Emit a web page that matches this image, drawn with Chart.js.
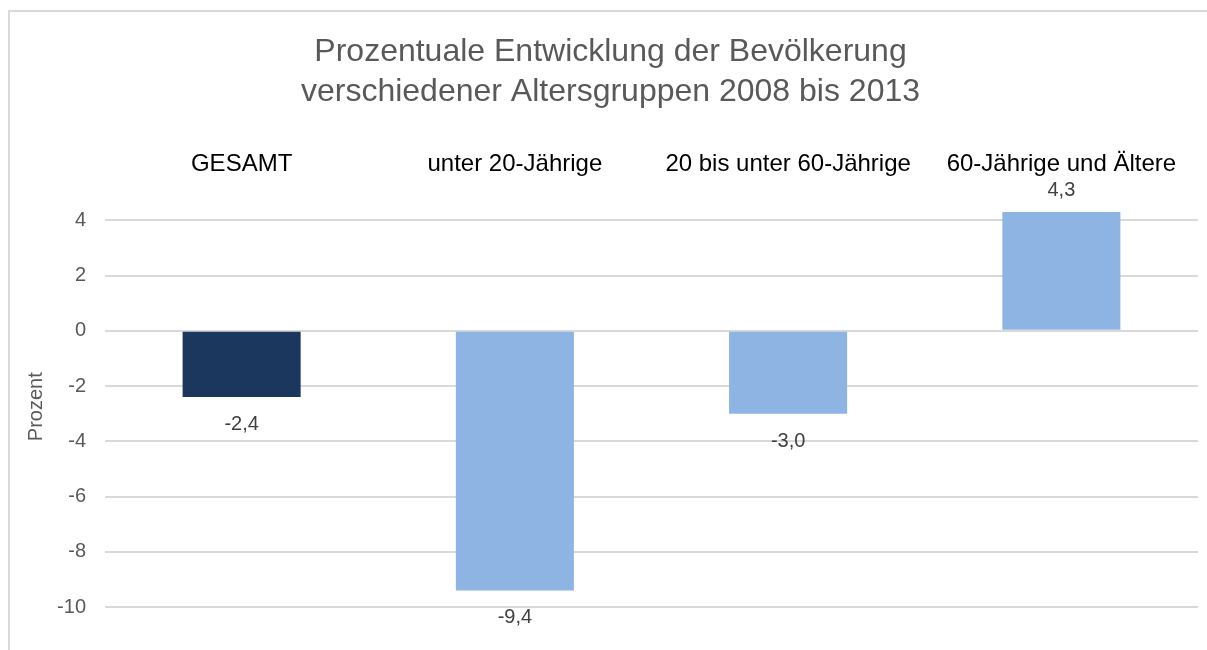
<!DOCTYPE html>
<html>
<head>
<meta charset="utf-8">
<script src="https://cdn.jsdelivr.net/npm/chart.js@4/dist/chart.umd.min.js"></script>
<style>
  body { margin: 0; background: #fff; overflow: hidden; }
  .frame { position: absolute; left: 8px; top: 10px; width: 1300px; height: 700px; border: 2px solid #d9d9d9; }
  .graph { position: absolute; left: 0; top: 0; width: 1207px; height: 650px; }
</style>
</head>
<body>
<div class="frame"></div>
<div class="graph"><canvas id="chart"></canvas></div>
<script>
const categories = ['GESAMT', 'unter 20-Jährige', '20 bis unter 60-Jährige', '60-Jährige und Ältere'];
const values = [-2.4, -9.4, -3.0, 4.3];
const yTicks = [4, 2, 0, -2, -4, -6, -8, -10];

const FONT = "'Liberation Sans', Arial, sans-serif";
const totalColor = '#1b375e';
const groupColor = '#8eb4e3';

// draws the value labels at the bar ends (outside end, comma decimals)
const valueLabels = {
    id: 'valueLabels',
    afterDatasetsDraw(chart) {
        const ctx = chart.ctx;
        const meta = chart.getDatasetMeta(0);
        ctx.save();
        ctx.font = '20px ' + FONT;
        ctx.fillStyle = '#404040';
        ctx.textAlign = 'center';
        ctx.textBaseline = 'alphabetic';
        meta.data.forEach((bar, i) => {
            const v = values[i];
            const text = v.toFixed(1).replace('.', ',');
            if (v >= 0) {
                ctx.fillText(text, bar.x, bar.y - 16);
            } else {
                ctx.fillText(text, bar.x, bar.y + 33);
            }
        });
        ctx.restore();
    }
};

new Chart(document.getElementById('chart'), {
    type: 'bar',
    data: {
        labels: categories,
        datasets: [{
            data: values,
            backgroundColor: categories.map((c, i) => i === 0 ? totalColor : groupColor),
            borderWidth: 0,
            categoryPercentage: 1,
            barPercentage: 0.432
        }]
    },
    options: {
        responsive: true,
        maintainAspectRatio: false,
        animation: false,
        layout: { padding: { left: 23, right: 9, top: 0, bottom: 43 } },
        plugins: {
            legend: { display: false },
            tooltip: { enabled: false },
            title: {
                display: true,
                text: ['Prozentuale Entwicklung der Bevölkerung', 'verschiedener Altersgruppen 2008 bis 2013'],
                color: '#595959',
                font: { family: FONT, size: 32, weight: 'normal', lineHeight: 1.25 },
                padding: { top: 32, bottom: 38 }
            }
        },
        scales: {
            x: {
                position: 'top',
                grid: { display: false, drawTicks: false },
                border: { display: false },
                afterFit(scale) { scale.height = 56.5; },
                ticks: {
                    color: '#000000',
                    font: { family: FONT, size: 24 },
                    padding: 28,
                    maxRotation: 0,
                    autoSkip: false
                }
            },
            y: {
                min: -10,
                max: 4.5,
                grid: { color: '#d9d9d9', lineWidth: 2, drawTicks: false },
                border: { display: false },
                afterFit(scale) { scale.width = 82; },
                afterBuildTicks(scale) { scale.ticks = yTicks.map(v => ({ value: v })); },
                ticks: {
                    color: '#595959',
                    font: { family: FONT, size: 20 },
                    padding: 19,
                    callback: v => String(v)
                },
                title: {
                    display: true,
                    text: 'Prozent',
                    color: '#595959',
                    font: { family: FONT, size: 20 },
                    padding: { top: 1, bottom: 0 }
                }
            }
        }
    },
    plugins: [valueLabels]
});
</script>
</body>
</html>
